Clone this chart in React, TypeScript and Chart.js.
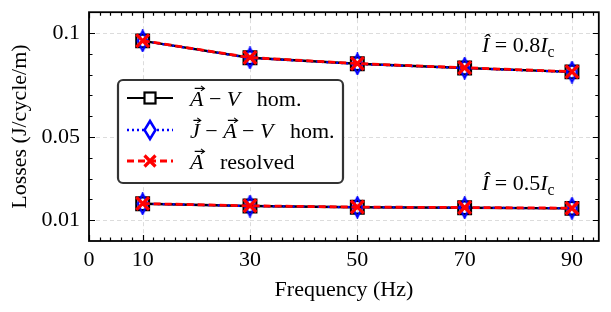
import React, { useEffect, useRef } from "react";
import { Chart, registerables } from "chart.js";

Chart.register(...registerables);

// ---- data ----
const FREQ = [10, 30, 50, 70, 90];
const AV_HOM_08 = [0.0962, 0.0881, 0.0852, 0.0832, 0.0813];
const JAV_HOM_08 = [0.0962, 0.0880, 0.0851, 0.0831, 0.0812];
const A_RES_08 = [0.0963, 0.0882, 0.0853, 0.0833, 0.0814];
const AV_HOM_05 = [0.0179, 0.0168, 0.0162, 0.0160, 0.0157];
const JAV_HOM_05 = [0.0179, 0.0168, 0.0162, 0.0160, 0.0157];
const A_RES_05 = [0.0180, 0.0169, 0.0163, 0.0161, 0.0158];

const X_TICKS = [0, 10, 30, 50, 70, 90];
const X_TICK_LABELS = ["0", "10", "30", "50", "70", "90"];
const Y_TICKS = [0.01, 0.05, 0.1];
const Y_TICK_LABELS = ["0.01", "0.05", "0.1"];
const X_MIN = 0, X_MAX = 95, Y_MIN = 0, Y_MAX = 0.11;
const X_MINOR_STEP = 2;
const Y_MINOR_STEP = 0.01;

const FONT = '"Liberation Serif", "Times New Roman", serif';
const FS = 22;

type Run = { t: string; it?: boolean; vec?: boolean; sub?: boolean };

function setFont(ctx: CanvasRenderingContext2D, r: Run, size: number) {
  const s = r.sub ? size * 0.72 : size;
  ctx.font = `${r.it ? "italic " : ""}${s}px ${FONT}`;
}
function measureRuns(ctx: CanvasRenderingContext2D, runs: Run[], size: number) {
  let w = 0;
  for (const r of runs) {
    setFont(ctx, r, size);
    w += ctx.measureText(r.t).width;
  }
  return w;
}
function drawRuns(ctx: CanvasRenderingContext2D, runs: Run[], x: number, y: number, size: number) {
  let cx = x;
  ctx.textAlign = "left";
  ctx.textBaseline = "alphabetic";
  for (const r of runs) {
    setFont(ctx, r, size);
    const dy = r.sub ? size * 0.22 : 0;
    ctx.fillStyle = "#000";
    ctx.fillText(r.t, cx, y + dy);
    const w = ctx.measureText(r.t).width;
    if (r.vec) {
      const ay = y - size * 0.8;
      const x1 = cx + w * 0.35;
      const x2 = cx + w + 1;
      ctx.save();
      ctx.strokeStyle = "#000";
      ctx.lineWidth = 1.1;
      ctx.beginPath();
      ctx.moveTo(x1, ay);
      ctx.lineTo(x2, ay);
      ctx.moveTo(x2 - 3.5, ay - 2.5);
      ctx.lineTo(x2, ay);
      ctx.lineTo(x2 - 3.5, ay + 2.5);
      ctx.stroke();
      ctx.restore();
    }
    cx += w;
  }
  return cx;
}

function makeDiamond(w: number, h: number, color: string, lw: number) {
  const c = document.createElement("canvas");
  c.width = w;
  c.height = h;
  const g = c.getContext("2d")!;
  g.strokeStyle = color;
  g.lineWidth = lw;
  g.lineJoin = "miter";
  g.beginPath();
  g.moveTo(w / 2, lw / 2 + 0.5);
  g.lineTo(w - lw / 2 - 0.5, h / 2);
  g.lineTo(w / 2, h - lw / 2 - 0.5);
  g.lineTo(lw / 2 + 0.5, h / 2);
  g.closePath();
  g.stroke();
  return c;
}

const axesPlugin = {
  id: "axesDeco",
  beforeDatasetsDraw(chart: any) {
    const ctx: CanvasRenderingContext2D = chart.ctx;
    const { left, right, top, bottom } = chart.chartArea;
    const xs = chart.scales.x, ys = chart.scales.y;
    ctx.save();
    ctx.strokeStyle = "#dcdcdc";
    ctx.lineWidth = 1;
    ctx.setLineDash([4, 3]);
    for (const v of X_TICKS) {
      if (v === X_MIN) continue;
      const px = Math.round(xs.getPixelForValue(v)) + 0.5;
      ctx.beginPath();
      ctx.moveTo(px, top);
      ctx.lineTo(px, bottom);
      ctx.stroke();
    }
    for (const v of Y_TICKS) {
      const py = Math.round(ys.getPixelForValue(v)) + 0.5;
      ctx.beginPath();
      ctx.moveTo(left, py);
      ctx.lineTo(right, py);
      ctx.stroke();
    }
    ctx.restore();
  },
  afterDatasetsDraw(chart: any) {
    const ctx: CanvasRenderingContext2D = chart.ctx;
    const { left, right, top, bottom } = chart.chartArea;
    const xs = chart.scales.x, ys = chart.scales.y;
    ctx.save();
    ctx.strokeStyle = "#000";
    ctx.lineWidth = 1.2;
    const MAJ = 6, MIN = 3.5;
    for (let v = X_MIN; v <= X_MAX + 1e-9; v += X_MINOR_STEP) {
      const major = X_TICKS.indexOf(Math.round(v)) >= 0;
      const L = major ? MAJ : MIN;
      const px = Math.round(xs.getPixelForValue(v)) + 0.5;
      ctx.beginPath();
      ctx.moveTo(px, bottom);
      ctx.lineTo(px, bottom - L);
      ctx.moveTo(px, top);
      ctx.lineTo(px, top + L);
      ctx.stroke();
    }
    for (let i = 1; i * Y_MINOR_STEP <= Y_MAX + 1e-9; i++) {
      const v = i * Y_MINOR_STEP;
      const major = Y_TICKS.some((t) => Math.abs(t - v) < 1e-6);
      const L = major ? MAJ : MIN;
      const py = Math.round(ys.getPixelForValue(v)) + 0.5;
      ctx.beginPath();
      ctx.moveTo(left, py);
      ctx.lineTo(left + L, py);
      ctx.moveTo(right, py);
      ctx.lineTo(right - L, py);
      ctx.stroke();
    }
    ctx.lineWidth = 1.8;
    ctx.strokeRect(left, top, right - left, bottom - top);
    ctx.restore();
  },
  afterDraw(chart: any) {
    const ctx: CanvasRenderingContext2D = chart.ctx;
    const xs = chart.scales.x, ys = chart.scales.y;
    // annotations
    const ann08: Run[] = [{ t: "Î", it: true }, { t: " = 0.8" }, { t: "I", it: true }, { t: "c", sub: true }];
    const ann05: Run[] = [{ t: "Î", it: true }, { t: " = 0.5" }, { t: "I", it: true }, { t: "c", sub: true }];
    const cx = xs.getPixelForValue(80);
    let w = measureRuns(ctx, ann08, FS);
    drawRuns(ctx, ann08, cx - w / 2, ys.getPixelForValue(0.0947) + 8, FS);
    w = measureRuns(ctx, ann05, FS);
    drawRuns(ctx, ann05, cx - w / 2, ys.getPixelForValue(0.0283) + 8, FS);

    // legend
    const bx = 118, by = 80, bw = 225, bh = 103;
    ctx.save();
    ctx.fillStyle = "#fff";
    ctx.strokeStyle = "#333";
    ctx.lineWidth = 2.2;
    ctx.beginPath();
    (ctx as any).roundRect(bx, by, bw, bh, 5);
    ctx.fill();
    ctx.stroke();
    ctx.restore();

    const rows = [98, 130, 161];
    const lx1 = 127, lx2 = 173, mx = 150;
    // row 1 black
    ctx.save();
    ctx.strokeStyle = "#000";
    ctx.lineWidth = 2.2;
    ctx.beginPath();
    ctx.moveTo(lx1, rows[0]);
    ctx.lineTo(lx2, rows[0]);
    ctx.stroke();
    ctx.fillStyle = "#fff";
    ctx.fillRect(mx - 5.5, rows[0] - 5.5, 11, 11);
    ctx.strokeRect(mx - 5.5, rows[0] - 5.5, 11, 11);
    // row 2 blue dotted
    ctx.strokeStyle = "#0000ff";
    ctx.setLineDash([2, 3]);
    ctx.lineWidth = 2.4;
    ctx.beginPath();
    ctx.moveTo(lx1, rows[1]);
    ctx.lineTo(lx2, rows[1]);
    ctx.stroke();
    ctx.setLineDash([]);
    ctx.fillStyle = "#fff";
    ctx.beginPath();
    ctx.moveTo(mx, rows[1] - 9);
    ctx.lineTo(mx + 5.5, rows[1]);
    ctx.lineTo(mx, rows[1] + 9);
    ctx.lineTo(mx - 5.5, rows[1]);
    ctx.closePath();
    ctx.fill();
    ctx.lineWidth = 2.5;
    ctx.stroke();
    // row 3 red dashed
    ctx.strokeStyle = "#ff0000";
    ctx.lineWidth = 2.8;
    ctx.setLineDash([7, 4]);
    ctx.beginPath();
    ctx.moveTo(lx1, rows[2]);
    ctx.lineTo(lx2, rows[2]);
    ctx.stroke();
    ctx.setLineDash([]);
    ctx.lineWidth = 3.2;
    ctx.beginPath();
    ctx.moveTo(mx - 5.5, rows[2] - 5.5);
    ctx.lineTo(mx + 5.5, rows[2] + 5.5);
    ctx.moveTo(mx + 5.5, rows[2] - 5.5);
    ctx.lineTo(mx - 5.5, rows[2] + 5.5);
    ctx.stroke();
    ctx.restore();

    const tx = 190;
    const LFS = 22;
    drawRuns(ctx, [{ t: "A", it: true, vec: true }, { t: " − " }, { t: "V", it: true }, { t: "   hom." }], tx, rows[0] + 8, LFS);
    drawRuns(ctx, [{ t: "J", it: true, vec: true }, { t: " − " }, { t: "A", it: true, vec: true }, { t: " − " }, { t: "V", it: true }, { t: "   hom." }], tx, rows[1] + 8, LFS);
    drawRuns(ctx, [{ t: "A", it: true, vec: true }, { t: "   resolved" }], tx, rows[2] + 8, LFS);
  },
};

export default function App() {
  const ref = useRef<HTMLCanvasElement>(null);
  useEffect(() => {
    if (!ref.current) return;
    const diamond = makeDiamond(13, 23, "#0000ff", 2.2);
    const pts = (ys: number[]) => FREQ.map((x, i) => ({ x, y: ys[i] }));
    const black = {
      borderColor: "#000",
      borderWidth: 2.4,
      pointStyle: "rect",
      pointRadius: 9,
      pointBorderWidth: 2.2,
      pointBorderColor: "#000",
      pointBackgroundColor: "rgba(0,0,0,0)",
      order: 3,
      tension: 0,
    };
    const blue = {
      borderColor: "#0000ff",
      borderWidth: 2.2,
      borderDash: [2, 3],
      pointStyle: diamond,
      pointRadius: 9,
      order: 2,
      tension: 0,
    };
    const red = {
      borderColor: "#ff0000",
      borderWidth: 2.8,
      borderDash: [7, 4],
      pointStyle: "crossRot",
      pointRadius: 9,
      pointBorderWidth: 3.2,
      pointBorderColor: "#ff0000",
      order: 1,
      tension: 0,
    };
    const chart = new Chart(ref.current, {
      type: "line",
      data: {
        datasets: [
          { label: "A-V hom. 0.8", data: pts(AV_HOM_08), ...black },
          { label: "A-V hom. 0.5", data: pts(AV_HOM_05), ...black },
          { label: "J-A-V hom. 0.8", data: pts(JAV_HOM_08), ...blue },
          { label: "J-A-V hom. 0.5", data: pts(JAV_HOM_05), ...blue },
          { label: "A resolved 0.8", data: pts(A_RES_08), ...red },
          { label: "A resolved 0.5", data: pts(A_RES_05), ...red },
        ] as any,
      },
      options: {
        animation: false,
        responsive: false,
        devicePixelRatio: 1,
        layout: { padding: { left: 0, top: 10, right: 10, bottom: 0 } },
        plugins: { legend: { display: false }, tooltip: { enabled: false } },
        scales: {
          x: {
            type: "linear",
            min: X_MIN,
            max: X_MAX,
            grid: { display: false, drawTicks: false },
            border: { display: false },
            afterBuildTicks: (s: any) => {
              s.ticks = X_TICKS.map((v) => ({ value: v }));
            },
            afterFit: (s: any) => {
              s.height = 71;
              s.paddingLeft = 0;
              s.paddingRight = 0;
            },
            ticks: {
              autoSkip: false,
              maxRotation: 0,
              padding: 6,
              color: "#000",
              font: { family: FONT, size: FS },
              callback: (_v: any, i: number) => X_TICK_LABELS[i],
            },
            title: {
              display: true,
              text: "Frequency (Hz)",
              color: "#000",
              font: { family: FONT, size: FS },
              padding: { top: 0, bottom: 9 },
            },
          },
          y: {
            type: "linear",
            min: Y_MIN,
            max: Y_MAX,
            grid: { display: false, drawTicks: false },
            border: { display: false },
            afterBuildTicks: (s: any) => {
              s.ticks = Y_TICKS.map((v) => ({ value: v }));
            },
            afterFit: (s: any) => {
              s.width = 89;
              s.paddingTop = 0;
              s.paddingBottom = 0;
            },
            ticks: {
              autoSkip: false,
              padding: 9,
              color: "#000",
              font: { family: FONT, size: FS },
              callback: (_v: any, i: number) => Y_TICK_LABELS[i],
            },
            title: {
              display: true,
              text: "Losses (J/cycle/m)",
              color: "#000",
              font: { family: FONT, size: FS },
              padding: { top: 7, bottom: 0 },
            },
          },
        },
      },
      plugins: [axesPlugin],
    } as any);
    return () => chart.destroy();
  }, []);
  return (
    <div style={{ position: "absolute", left: 0, top: 0, width: 611, height: 312, background: "#fff" }}>
      <canvas ref={ref} width={611} height={312} style={{ display: "block" }} />
    </div>
  );
}
